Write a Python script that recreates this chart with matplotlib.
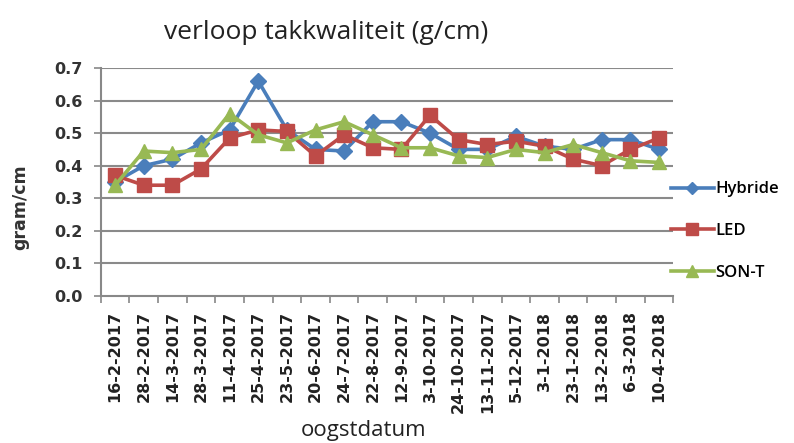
import matplotlib
matplotlib.use("Agg")
import matplotlib.pyplot as plt
from matplotlib.lines import Line2D

plt.rcParams['font.family'] = ['Open Sans', 'DejaVu Sans']

dates = ["16-2-2017", "28-2-2017", "14-3-2017", "28-3-2017", "11-4-2017", "25-4-2017",
         "23-5-2017", "20-6-2017", "24-7-2017", "22-8-2017", "12-9-2017", "3-10-2017",
         "24-10-2017", "13-11-2017", "5-12-2017", "3-1-2018", "23-1-2018", "13-2-2018",
         "6-3-2018", "10-4-2018"]
hybride = [0.35, 0.40, 0.42, 0.47, 0.51, 0.66, 0.51, 0.45, 0.445, 0.535,
           0.535, 0.50, 0.45, 0.45, 0.49, 0.46, 0.45, 0.48, 0.48, 0.45]
led = [0.37, 0.34, 0.34, 0.39, 0.485, 0.51, 0.505, 0.43, 0.495, 0.455,
       0.45, 0.555, 0.48, 0.465, 0.475, 0.46, 0.42, 0.40, 0.45, 0.485]
sont = [0.34, 0.445, 0.44, 0.45, 0.56, 0.495, 0.47, 0.51, 0.535, 0.495,
        0.455, 0.455, 0.43, 0.425, 0.45, 0.44, 0.465, 0.44, 0.415, 0.41]
yticks = [0.0, 0.1, 0.2, 0.3, 0.4, 0.5, 0.6, 0.7]

fig = plt.figure(figsize=(7.94, 4.43), dpi=100)
ax = fig.add_axes([0.127, 0.332, 0.721, 0.5145])

x = list(range(len(dates)))
c_h, c_l, c_s = '#4a7ebb', '#be4b48', '#98b954'
ax.plot(x, hybride, color=c_h, lw=2.6, marker='D', ms=8, mec=c_h, mfc=c_h, label='Hybride', zorder=3)
ax.plot(x, led, color=c_l, lw=2.6, marker='s', ms=9.5, mec=c_l, mfc=c_l, label='LED', zorder=4)
ax.plot(x, sont, color=c_s, lw=2.6, marker='^', ms=10, mec=c_s, mfc=c_s, label='SON-T', zorder=5)

tickfont = dict(family='DejaVu Sans', weight='bold', size=11.5)
ax.set_ylim(0, 0.7)
ax.set_xlim(-0.5, len(dates) - 0.5)
ax.set_yticks(yticks)
ax.set_yticklabels([f"{v:.1f}" for v in yticks], fontdict=tickfont, color='#333333')
ax.set_xticks(x)
ax.set_xticklabels(dates, rotation=90, fontdict=tickfont, color='#222222')
ax.set_xticks([i - 0.5 for i in range(len(dates) + 1)], minor=True)
ax.tick_params(axis='x', which='major', length=0, pad=11)
ax.tick_params(axis='x', which='minor', length=5, color='#888888', width=1.2)
ax.tick_params(axis='y', length=5, color='#888888', width=1.2, pad=8)

for v in yticks[1:]:
    ax.axhline(v, color='#8a8a8a', lw=1.5, zorder=1)
for s in ['top', 'right']:
    ax.spines[s].set_visible(False)
for s in ['left', 'bottom']:
    ax.spines[s].set_color('#888888')
    ax.spines[s].set_linewidth(1.5)

fig.text(0.411, 0.927, 'verloop takkwaliteit (g/cm)', ha='center', va='center', fontsize=19, color='#222222')
fig.text(0.458, 0.028, 'oogstdatum', ha='center', va='center', fontsize=16, color='#222222')
fig.text(0.025, 0.533, 'gram/cm', ha='center', va='center', rotation=90,
         family='DejaVu Sans', fontsize=12.5, fontweight='bold', color='#333333')

handles = [Line2D([0], [0], color=c_h, lw=2.6, marker='D', ms=6),
           Line2D([0], [0], color=c_l, lw=2.6, marker='s', ms=8),
           Line2D([0], [0], color=c_s, lw=2.6, marker='^', ms=8)]
fig.legend(handles, ['Hybride', 'LED', 'SON-T'], loc='center left', bbox_to_anchor=(0.83, 0.478),
           frameon=False, prop=dict(family='Open Sans', size=12, weight='semibold'),
           labelspacing=1.55, handlelength=2.6, handletextpad=0.1, borderpad=0.2)

fig.savefig('out.png', dpi=100, facecolor='white')
